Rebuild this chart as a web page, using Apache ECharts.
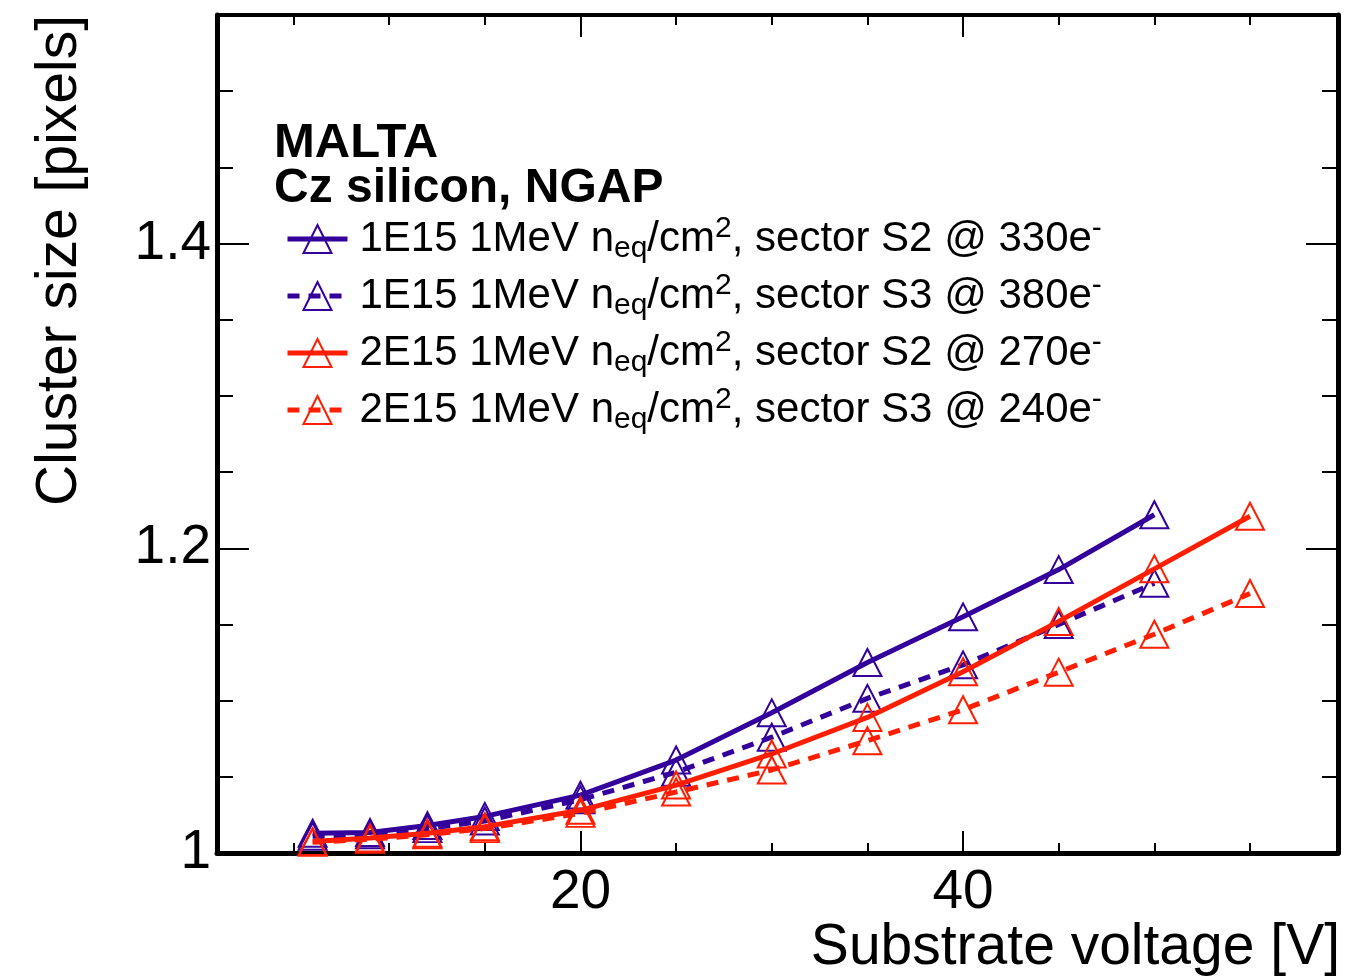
<!DOCTYPE html>
<html>
<head>
<meta charset="utf-8">
<title>MALTA cluster size vs substrate voltage</title>
<script src="https://cdn.jsdelivr.net/npm/echarts@6/dist/echarts.min.js"></script>
<style>
  html, body { margin: 0; padding: 0; background: #fff; }
  #chart { width: 1345px; height: 978px; }
</style>
</head>
<body>
<div id="chart"></div>
<script>
// Substrate voltage [V] for each measurement point
const voltage = [6, 9, 12, 15, 20, 25, 30, 35, 40, 45, 50, 55];

// Mean cluster size [pixels]
const fl1e15S2 = [1.013, 1.0135, 1.018, 1.024, 1.038, 1.061, 1.092, 1.125, 1.155, 1.186, 1.222];
const fl1e15S3 = [1.011, 1.012, 1.016, 1.021, 1.035, 1.053, 1.076, 1.1015, 1.1235, 1.150, 1.177];
const fl2e15S2 = [1.0075, 1.0098, 1.013, 1.0173, 1.028, 1.0446, 1.065, 1.089, 1.119, 1.152, 1.1865, 1.221];
const fl2e15S3 = [1.007, 1.009, 1.012, 1.016, 1.026, 1.040, 1.0545, 1.0737, 1.094, 1.1187, 1.1436, 1.1703];

// Legend labels (rich text: sub/superscripts)
const seriesNames = [
  '1E15 1MeV n{sub|eq}/cm{sup|2}, sector S2 @ 330e{supm|-}',
  '1E15 1MeV n{sub|eq}/cm{sup|2}, sector S3 @ 380e{supm|-}',
  '2E15 1MeV n{sub|eq}/cm{sup|2}, sector S2 @ 270e{supm|-}',
  '2E15 1MeV n{sub|eq}/cm{sup|2}, sector S3 @ 240e{supm|-}'
];

// Axis tick positions
const xMinorTicks = [5, 10, 15, 20, 25, 30, 35, 40, 45, 50, 55];
const xMajorTicks = [20, 40];
const yMinorTicks = [1.05, 1.1, 1.15, 1.2, 1.25, 1.3, 1.35, 1.4, 1.45, 1.5];
const yMajorTicks = [1, 1.2, 1.4];

const BLUE = '#33009c';
const RED = '#ff1e00';
const FONT = '"Liberation Sans", Arial, Helvetica, sans-serif';

const X_MIN = 1, X_MAX = 59.6;
const Y_MIN = 1, Y_MAX = 1.55;

function pairs(values) {
  return values.map((v, i) => [voltage[i], v]);
}

function makeSeries(idx, values, color, dashed) {
  return {
    name: seriesNames[idx],
    type: 'line',
    xAxisIndex: 0,
    yAxisIndex: 0,
    data: pairs(values),
    symbol: 'triangle',
    symbolSize: [28, 27],
    showAllSymbol: true,
    z: 3 + idx,
    itemStyle: { color: 'rgba(255,255,255,0)', borderColor: color, borderWidth: 2 },
    lineStyle: { color: color, width: 5, type: dashed ? [12, 9] : 'solid' },
    emphasis: { disabled: true },
    animation: false
  };
}

const gridBox = { left: 217, right: 7, top: 15, bottom: 125 };

function xAxisDef(grid, pos, ticks, len, showLine, labels) {
  return {
    type: 'value', gridIndex: grid, position: pos, min: X_MIN, max: X_MAX,
    axisLine: { show: showLine, onZero: false, lineStyle: { color: '#000', width: pos === 'top' ? 4 : 5 } },
    axisTick: { show: true, inside: true, length: len, customValues: ticks, lineStyle: { color: '#000', width: 2 } },
    axisLabel: labels ? { show: true, customValues: labels, fontSize: 55, fontFamily: FONT, color: '#000', margin: 12 } : { show: false },
    splitLine: { show: false }
  };
}

function yAxisDef(grid, pos, ticks, len, showLine, labels) {
  return {
    type: 'value', gridIndex: grid, position: pos, min: Y_MIN, max: Y_MAX,
    axisLine: { show: showLine, onZero: false, lineStyle: { color: '#000', width: 5 } },
    axisTick: { show: true, inside: true, length: len, customValues: ticks, lineStyle: { color: '#000', width: 2 } },
    axisLabel: labels ? {
      show: true, customValues: labels, fontSize: 55, fontFamily: FONT, color: '#000', margin: 6,
      formatter: v => (Math.abs(v - 1) < 1e-9 ? '1' : v.toFixed(1))
    } : { show: false },
    splitLine: { show: false }
  };
}

const chart = echarts.init(document.getElementById('chart'), null, { renderer: 'canvas' });

chart.setOption({
  backgroundColor: '#fff',
  animation: false,
  title: [
    { text: 'MALTA', left: 274, top: 119, padding: 0,
      textStyle: { fontFamily: FONT, fontSize: 49, fontWeight: 'bold', color: '#000', lineHeight: 48 } },
    { text: 'Cz silicon, NGAP', left: 274, top: 165, padding: 0,
      textStyle: { fontFamily: FONT, fontSize: 48, fontWeight: 'bold', color: '#000', lineHeight: 48 } }
  ],
  legend: {
    orient: 'vertical',
    left: 285,
    top: 214,
    padding: 0,
    itemWidth: 60,
    itemHeight: 35,
    itemGap: 7,
    selectedMode: false,
    data: seriesNames,
    lineStyle: { width: 5 },
    textStyle: {
      fontFamily: FONT, fontSize: 42, color: '#000', lineHeight: 50, padding: [0, 0, 0, 7],
      rich: {
        sub: { fontFamily: FONT, fontSize: 30, color: '#000', lineHeight: 22, verticalAlign: 'bottom' },
        sup: { fontFamily: FONT, fontSize: 30, color: '#000', lineHeight: 32, verticalAlign: 'top' },
        supm: { fontFamily: FONT, fontSize: 30, color: '#000', lineHeight: 8, verticalAlign: 'top' }
      }
    }
  },
  grid: [
    Object.assign({ containLabel: false }, gridBox),
    Object.assign({ containLabel: false }, gridBox)
  ],
  xAxis: [
    xAxisDef(0, 'bottom', xMinorTicks, 10, true, null),
    xAxisDef(0, 'top', xMinorTicks, 10, true, null),
    xAxisDef(1, 'bottom', xMajorTicks, 22, false, xMajorTicks),
    xAxisDef(1, 'top', xMajorTicks, 22, false, null)
  ],
  yAxis: [
    yAxisDef(0, 'left', yMinorTicks, 16, true, null),
    yAxisDef(0, 'right', yMinorTicks, 16, true, null),
    yAxisDef(1, 'left', yMajorTicks, 32, false, yMajorTicks),
    yAxisDef(1, 'right', yMajorTicks, 32, false, null)
  ],
  graphic: [
    { type: 'text', x: 1340, y: 948, z: 10,
      style: { text: 'Substrate voltage [V]', font: '57px ' + FONT, fill: '#000', align: 'right', verticalAlign: 'middle' } },
    { type: 'text', x: 60, y: 15, rotation: Math.PI / 2, z: 10,
      style: { text: 'Cluster size [pixels]', font: '57px ' + FONT, fill: '#000', align: 'right', verticalAlign: 'middle' } }
  ],
  series: [
    makeSeries(0, fl1e15S2, BLUE, false),
    makeSeries(1, fl1e15S3, BLUE, true),
    makeSeries(2, fl2e15S2, RED, false),
    makeSeries(3, fl2e15S3, RED, true)
  ]
});
</script>
</body>
</html>
